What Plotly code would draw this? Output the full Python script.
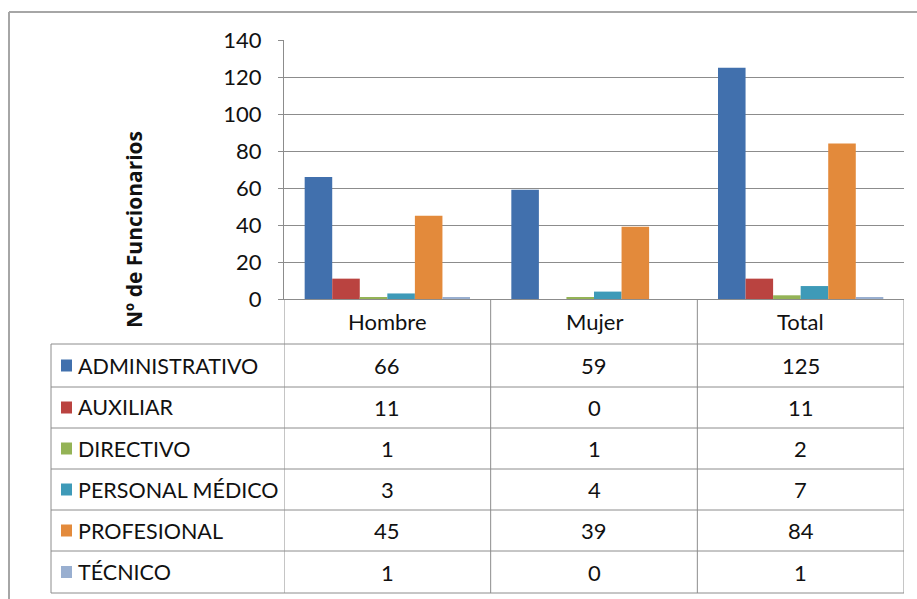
import plotly.graph_objects as go

# Data
categories = ["Hombre", "Mujer", "Total"]
series_names = ["ADMINISTRATIVO", "AUXILIAR", "DIRECTIVO", "PERSONAL MÉDICO", "PROFESIONAL", "TÉCNICO"]
administrativo = [66, 59, 125]
auxiliar = [11, 0, 11]
directivo = [1, 1, 2]
personal_medico = [3, 4, 7]
profesional = [45, 39, 84]
tecnico = [1, 0, 1]
series_values = [administrativo, auxiliar, directivo, personal_medico, profesional, tecnico]
y_ticks = [0, 20, 40, 60, 80, 100, 120, 140]

colors = ["#4170AD", "#BA4340", "#94B356", "#3E9AB8", "#E38A3B", "#99AFD0"]

W, H = 917, 599
FONT = "Lato"
TXT = "#111111"
GRID = "#8C8C8C"
BORDER = "#A6A6A6"


def px(x):
    return x / W


def py(y):
    return 1 - y / H


fig = go.Figure()
for name, vals, col in zip(series_names, series_values, colors):
    fig.add_trace(go.Bar(x=categories, y=vals, name=name, marker=dict(color=col, line=dict(width=0))))

# plot area geometry (pixels)
plot_left, plot_right = 284, 904
plot_top, plot_bottom = 40, 299
row_lines = [344, 387, 428, 469, 510, 551, 593]
table_left = 51

shapes = []
annotations = []

# outer chart frame
shapes.append(dict(type="line", xref="paper", yref="paper", x0=px(9), x1=1.01, y0=py(12), y1=py(12),
                   line=dict(color=BORDER, width=2)))
shapes.append(dict(type="line", xref="paper", yref="paper", x0=px(9), x1=px(9), y0=py(12), y1=-0.01,
                   line=dict(color=BORDER, width=2)))

# data table horizontal rules
for yl in row_lines:
    shapes.append(dict(type="line", xref="paper", yref="paper", x0=px(table_left), x1=px(plot_right),
                       y0=py(yl), y1=py(yl), line=dict(color=GRID, width=1)))
# data table vertical rules at category boundaries
for b in [-0.5, 0.5, 1.5, 2.5]:
    shapes.append(dict(type="line", xref="x", yref="paper", x0=b, x1=b,
                       y0=py(plot_bottom), y1=py(row_lines[-1]), line=dict(color=GRID, width=1)))
shapes.append(dict(type="line", xref="paper", yref="paper", x0=px(table_left), x1=px(table_left),
                   y0=py(row_lines[0]), y1=py(row_lines[-1]), line=dict(color=GRID, width=1)))

# category header labels
for i, c in enumerate(categories):
    annotations.append(dict(x=i, xref="x", y=py((plot_bottom + row_lines[0]) / 2), yref="paper",
                            text=c, showarrow=False, font=dict(family=FONT, size=22, color=TXT),
                            xanchor="center", yanchor="middle"))

# table rows: legend key, series name and values
for r, (name, vals, col) in enumerate(zip(series_names, series_values, colors)):
    yc = (row_lines[r] + row_lines[r + 1]) / 2
    shapes.append(dict(type="rect", xref="paper", yref="paper", x0=px(61), x1=px(72),
                       y0=py(yc - 6), y1=py(yc + 6), fillcolor=col, line=dict(width=0)))
    annotations.append(dict(x=px(76), xref="paper", y=py(yc), yref="paper", text=name, showarrow=False,
                            font=dict(family=FONT, size=21.5, color=TXT), xanchor="left", yanchor="middle"))
    for i, v in enumerate(vals):
        annotations.append(dict(x=i, xref="x", y=py(yc), yref="paper", text=str(v), showarrow=False,
                                font=dict(family=FONT, size=22, color=TXT), xanchor="center",
                                yanchor="middle"))

# axis title
annotations.append(dict(x=px(134), xref="paper", y=py(230), yref="paper", text="<b>Nº de Funcionarios</b>",
                        textangle=-90, showarrow=False, font=dict(family="Open Sans", size=21, color=TXT),
                        xanchor="center", yanchor="middle"))

fig.update_layout(
    width=W, height=H,
    margin=dict(l=0, r=0, t=0, b=0, pad=0, autoexpand=False),
    paper_bgcolor="white", plot_bgcolor="white",
    barmode="group", bargap=0.2, bargroupgap=0,
    showlegend=False,
    xaxis=dict(domain=[px(plot_left), px(plot_right)], range=[-0.5, 2.5], showticklabels=False,
               showline=True, linecolor=GRID, linewidth=1, showgrid=False, zeroline=False,
               automargin=False, fixedrange=True),
    yaxis=dict(domain=[py(plot_bottom), py(plot_top)], range=[0, 140], tickvals=y_ticks,
               showline=True, linecolor=GRID, linewidth=1, ticks="outside", ticklen=5, tickcolor=GRID,
               showgrid=True, gridcolor=GRID, gridwidth=1, zeroline=False, automargin=False,
               tickfont=dict(family=FONT, size=22, color=TXT), ticklabelstandoff=12),
    shapes=shapes,
    annotations=annotations,
)

fig.write_html("out.html")
